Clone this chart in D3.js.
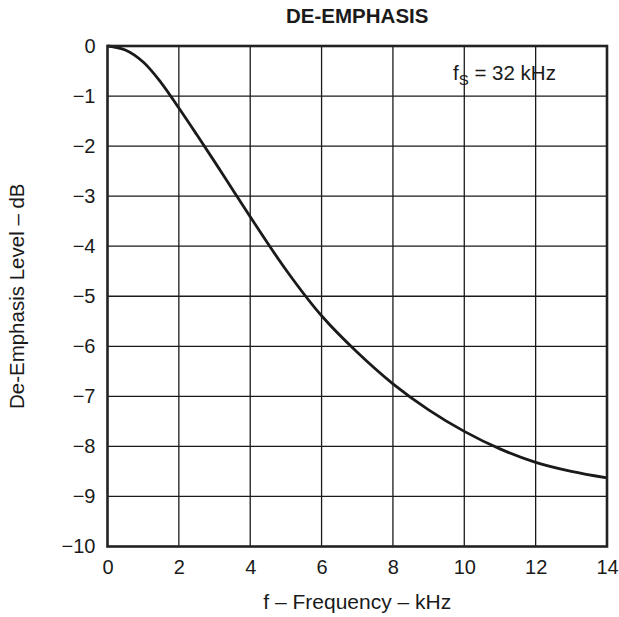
<!DOCTYPE html>
<html>
<head>
<meta charset="utf-8">
<script src="https://cdn.jsdelivr.net/npm/d3@7"></script>
<style>
  html, body { margin: 0; padding: 0; background: #fff; }
  svg { display: block; }
  text { font-family: "Liberation Sans", Arial, Helvetica, sans-serif; fill: #1a1a1a; }
</style>
</head>
<body>
<svg id="chart" width="619" height="617"></svg>
<script>
// Data
const frequency = [0, 0.5, 1, 1.5, 2, 2.5, 3, 3.5, 4, 5, 6, 7, 8, 9, 10, 11, 12, 13, 14];
const level = [0, -0.08, -0.32, -0.73, -1.24, -1.77, -2.31, -2.86, -3.41, -4.47, -5.39, -6.12, -6.75, -7.27, -7.7, -8.05, -8.32, -8.5, -8.63];
const xTicks = [0, 2, 4, 6, 8, 10, 12, 14];
const yTicks = [0, -1, -2, -3, -4, -5, -6, -7, -8, -9, -10];
const titleText = "DE-EMPHASIS";
const xLabel = "f \u2013 Frequency \u2013 kHz";
const yLabel = "De-Emphasis Level \u2013 dB";

const svg = d3.select("#chart");
const pL = 107.5, pR = 607, pT = 46, pB = 546.5;

const x = d3.scaleLinear().domain([0, 14]).range([pL, pR]);
const y = d3.scaleLinear().domain([0, -10]).range([pT, pB]);

// grid
const grid = svg.append("g").attr("stroke", "#1a1a1a").attr("stroke-width", 1.3);
grid.selectAll("line.v").data(xTicks.slice(1, -1)).join("line").attr("class", "v")
  .attr("x1", d => x(d)).attr("x2", d => x(d)).attr("y1", pT).attr("y2", pB);
grid.selectAll("line.h").data(yTicks.slice(1, -1)).join("line").attr("class", "h")
  .attr("y1", d => y(d)).attr("y2", d => y(d)).attr("x1", pL).attr("x2", pR);

// curve
const line = d3.line().x((d, i) => x(frequency[i])).y(d => y(d)).curve(d3.curveCatmullRom.alpha(0.5));
svg.append("path").datum(level).attr("d", line)
  .attr("fill", "none").attr("stroke", "#1a1a1a").attr("stroke-width", 2.8)
  .attr("stroke-linejoin", "round");

// frame
svg.append("rect").attr("x", pL).attr("y", pT).attr("width", pR - pL).attr("height", pB - pT)
  .attr("fill", "none").attr("stroke", "#222").attr("stroke-width", 2.6);

// axes (labels only)
const xAxis = d3.axisBottom(x).tickValues(xTicks).tickSize(0).tickPadding(13).tickFormat(d3.format("d"));
const gx = svg.append("g").attr("transform", `translate(0,${pB})`).call(xAxis);
gx.select(".domain").remove();
gx.selectAll("text").style("font-size", "20px").attr("fill", "#1a1a1a")
  .style("font-family", '"Liberation Sans", Arial, sans-serif');

const yAxis = d3.axisLeft(y).tickValues(yTicks).tickSize(0).tickPadding(12)
  .tickFormat(d => d === 0 ? "0" : "\u2212" + Math.abs(d));
const gy = svg.append("g").attr("transform", `translate(${pL},0)`).call(yAxis);
gy.select(".domain").remove();
gy.selectAll("text").style("font-size", "20px").attr("fill", "#1a1a1a")
  .style("font-family", '"Liberation Sans", Arial, sans-serif');

// title
svg.append("text").attr("x", (pL + pR) / 2).attr("y", 23).attr("text-anchor", "middle")
  .style("font-size", "20.5px").style("font-weight", "bold").text(titleText);

// axis titles
svg.append("text").attr("x", (pL + pR) / 2).attr("y", 609).attr("text-anchor", "middle")
  .style("font-size", "21px").text(xLabel);
svg.append("text").attr("transform", `translate(24,${(pT + pB) / 2}) rotate(-90)`)
  .attr("text-anchor", "middle").style("font-size", "20.5px").text(yLabel);

// annotation f_S = 32 kHz
const ann = svg.append("text").attr("x", 453).attr("y", 80).style("font-size", "20.5px");
ann.append("tspan").text("f");
ann.append("tspan").attr("dy", 5).style("font-size", "15px").text("S");
ann.append("tspan").attr("dy", -5).text(" = 32 kHz");
</script>
</body>
</html>
